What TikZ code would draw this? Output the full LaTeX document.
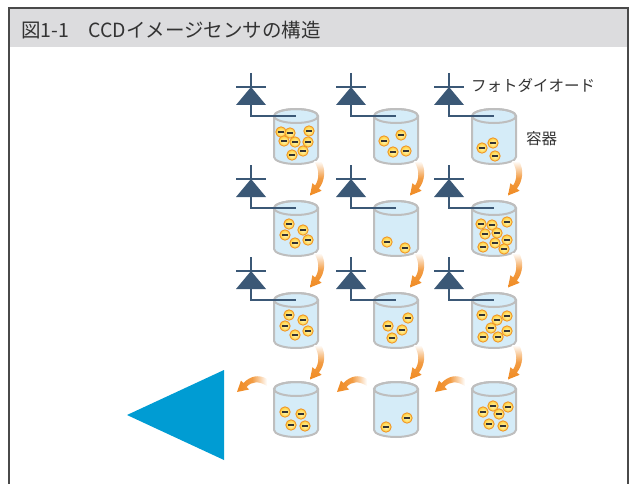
\documentclass[tikz,border=0pt]{standalone}
\usepackage{fontspec}
\newfontfamily\jpfont{Noto Sans CJK JP}

\definecolor{frameGray}{HTML}{4A4A4A}
\definecolor{titleGray}{HTML}{DCDCDE}
\definecolor{labelGray}{HTML}{333333}
\definecolor{wellBlue}{HTML}{D5ECF8}
\definecolor{wellGray}{HTML}{BEBEBE}
\definecolor{diodeBlue}{HTML}{3B5876}
\definecolor{chargeLight}{HTML}{FFF6B8}
\definecolor{chargeDark}{HTML}{FFD03A}
\definecolor{chargeRim}{HTML}{F0962A}
\definecolor{flowOrange}{HTML}{F08A22}
\definecolor{outBlue}{HTML}{009CD3}

\begin{document}
\begin{tikzpicture}
[x=1pt,y=-1pt,
  wellDecorate/.style={fill=wellBlue,draw=wellGray,line width=2pt,line join=round},%
  leadDecorate/.style={draw=diodeBlue,line width=1.4pt},%
  barDecorate/.style={draw=diodeBlue,line width=2.2pt},%
  chargeDecorate/.style={draw=chargeRim,line width=0.9pt,inner color=chargeLight,outer color=chargeDark},%
  minusDecorate/.style={draw=black!80,line width=1.6pt},%
  downDecorate/.style={top color=white,bottom color=flowOrange,middle color=flowOrange!85},%
  leftDecorate/.style={right color=white,left color=flowOrange,middle color=flowOrange!85},%
  labelDecorate/.style={inner sep=0pt,anchor=west,text=labelGray,font=\jpfont\fontsize{15.5}{18}\selectfont}]
\useasboundingbox (0,0) rectangle (634,484);
%% frame and title bar
\fill[titleGray] (9,8) rectangle (628,47);
\draw[frameGray,line width=1.2pt] (9,484) -- (9,8) -- (628,8) -- (628,484);
\node (title) at (21,30) [labelDecorate,font=\jpfont\fontsize{19.5}{23}\selectfont] {図1-1　CCDイメージセンサの構造};
%% one well per pixel
\foreach \r/\y in {1/116,2/208,3/300,4/389}
  \foreach \c/\x in {1/296,2/396,3/494}
    \coordinate (well\r\c) at (\x,\y);
%% wells and their charges
\foreach \r/\c/\charges in {%
  1/1/{-15/16,-6/17,13/15,-12/25,-1/26,12/26,7/35,-4/39},
  1/2/{-12/25,5/19,-3/36,10/35},
  1/3/{-12/32,-1/27,1/40},
  2/1/{-7/16,7/22,-11/27,12/32,-1/35},
  2/2/{-9/34,9/40},
  2/3/{-13/16,-2/17,13/14,-9/26,3/25,13/32,1/35,-11/39,10/41},
  3/1/{-7/15,7/20,-11/26,12/31,-1/35},
  3/2/{12/18,-8/26,6/30,-4/38},
  3/3/{-12/15,13/16,3/20,-3/28,13/31,-11/37,4/37},
  4/1/{-11/23,5/25,-5/36,9/37},
  4/2/{11/29,-10/38},
  4/3/{-11/23,-1/17,14/18,5/25,-5/35,9/37}}
{
  \begin{scope}[shift={(well\r\c)}]
    \path[wellDecorate] (-22,0) -- (-22,41) arc[start angle=180,end angle=0,x radius=22,y radius=7]
      -- (22,0) arc[start angle=0,end angle=-180,x radius=22,y radius=7] -- cycle;
    \draw[wellGray,line width=2pt] (0,0) ellipse[x radius=22,y radius=7];
    \foreach \ex/\ey in \charges
    {
      \path[chargeDecorate] (\ex,\ey) circle[radius=5.2];
      \draw[minusDecorate] (\ex-2.7,\ey) -- (\ex+2.7,\ey);
    }
  \end{scope}
}
%% photodiodes wired to the wells
\foreach \r in {1,2,3}
  \foreach \c in {1,2,3}
  {
    \begin{scope}[shift={(well\r\c)}]
      \coordinate (pd\r\c) at (-45,-11);
      \draw[leadDecorate] (-45,-43) -- (-45,-29);
      \fill[diodeBlue] (-45,-29) -- (-30,-11) -- (-60,-11) -- cycle;
      \draw[barDecorate] (-60,-29) -- (-30,-29);
    \end{scope}
    \draw[leadDecorate] (pd\r\c) |- (well\r\c);
  }
%% charge moving down the columns
\foreach \r in {1,2,3}
  \foreach \c in {1,2,3}
    \path[downDecorate,shift={(well\r\c)}] (25,45) .. controls (30,53) and (29,65) .. (22.9,72.6)
      -- (25.6,74.8) -- (14,79.5) -- (16.4,67.2) -- (19.1,69.4) .. controls (23,64) and (24,54) .. (18,45) -- cycle;
%% charge moving along the bottom row
\foreach \c in {1,2,3}
  \path[leftDecorate,shift={(well4\c)}] (-29,-10) .. controls (-37,-15) and (-46,-13) .. (-52.65,-5.9)
    -- (-55,-8.5) -- (-59,3) -- (-47,0.5) -- (-49.35,-2.1) .. controls (-44,-8) and (-37,-8) .. (-29,-3) -- cycle;
%% output
\fill[outBlue] (224,370) -- (127,415) -- (224,460) -- cycle;
%% labels
\node (pdLabel) at (471,85) [labelDecorate] {フォトダイオード};
\node (wellLabel) at (526,139) [labelDecorate] {容器};
\end{tikzpicture}
\end{document}
